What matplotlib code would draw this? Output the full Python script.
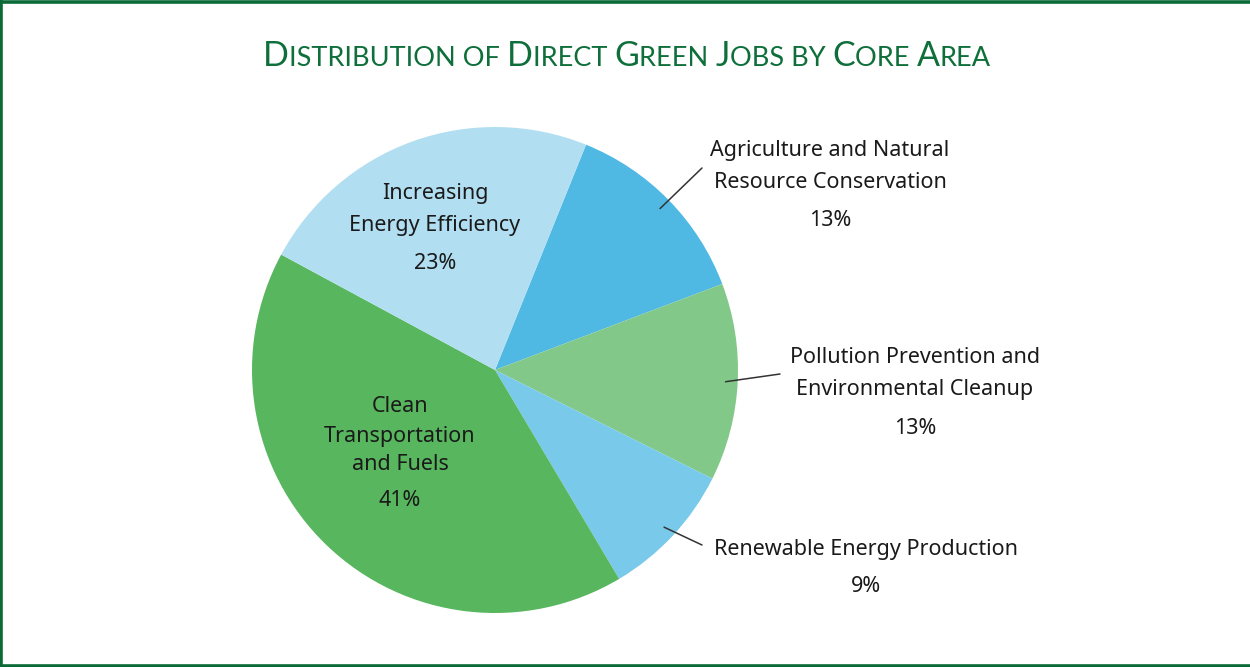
import numpy as np
import matplotlib
matplotlib.use("Agg")
import matplotlib.pyplot as plt
from matplotlib import font_manager
from matplotlib.lines import Line2D

# ---- data ----
categories = [
    "Agriculture and Natural\nResource Conservation",
    "Pollution Prevention and\nEnvironmental Cleanup",
    "Renewable Energy Production",
    "Clean\nTransportation\nand Fuels",
    "Increasing\nEnergy Efficiency",
]
shares = [13, 13, 9, 41, 23]
colors = ["#50b9e3", "#82c989", "#78c9ea", "#58b65e", "#b1dff1"]

title_green = "#0e6f3b"
text_color = "#1a1a1a"


def pick_font(names):
    for n in names:
        try:
            font_manager.findfont(font_manager.FontProperties(family=n),
                                  fallback_to_default=False)
            return n
        except Exception:
            continue
    return "DejaVu Sans"


body_font = pick_font(["Noto Sans", "Lato", "DejaVu Sans"])
title_font = pick_font(["Lato", "DejaVu Sans"])

W, H = 1250, 667
fig = plt.figure(figsize=(W / 100, H / 100), dpi=100)
fig.patch.set_facecolor("white")


def fpos(x, y):
    """pixel position (from top-left) -> figure fraction"""
    return x / W, 1 - y / H


# frame on top, left and bottom
for xs, ys in [((0, W), (1.5, 1.5)), ((1.5, 1.5), (0, H)), ((0, W), (H - 1.5, H - 1.5))]:
    fig.add_artist(Line2D([x / W for x in xs], [1 - y / H for y in ys],
                          transform=fig.transFigure, color="#0b6b38", lw=2.6))

# ---- pie ----
cx, cy, r = 495, 370, 243
ax = fig.add_axes([(cx - r) / W, (H - cy - r) / H, 2 * r / W, 2 * r / H])
wedges, _ = ax.pie(shares, colors=colors, startangle=68, counterclock=False,
                   radius=1, wedgeprops=dict(linewidth=0))
ax.set_xlim(-1, 1)
ax.set_ylim(-1, 1)
ax.set_aspect("equal")
ax.axis("off")

fs = 15.5


def draw_lines(lines, x, ys):
    for line, y in zip(lines, ys):
        fig.text(*fpos(x, y + 1.5), line, ha="center", va="center", fontsize=fs,
                 family=body_font, color=text_color)


# label layout: (x centre, y of each name line, y of percent line)
layout = [
    (830, [149, 181], 219),
    (915, [356, 388], 427),
    (866, [548], 585),
    (400, [405, 435, 463], 499),
    (435, [192, 224], 262),
]
leader_ends = {0: (702, 168), 1: (780, 374), 2: (702, 545)}

for i, (cat, val) in enumerate(zip(categories, shares)):
    x, ys, yp = layout[i]
    draw_lines(cat.split("\n"), x, ys)
    draw_lines([f"{val}%"], x, [yp])
    if i in leader_ends:
        w = wedges[i]
        mid = np.deg2rad((w.theta1 + w.theta2) / 2)
        ax.annotate("", xy=(0.95 * np.cos(mid), 0.95 * np.sin(mid)), xycoords="data",
                    xytext=fpos(*leader_ends[i]), textcoords="figure fraction",
                    arrowprops=dict(arrowstyle="-", lw=1.1, color="#333333",
                                    shrinkA=0, shrinkB=0))

# ---- small-caps title ----
segments = [("D", True), ("ISTRIBUTION OF ", False), ("D", True), ("IRECT ", False),
            ("G", True), ("REEN ", False), ("J", True), ("OBS BY ", False),
            ("C", True), ("ORE ", False), ("A", True), ("REA", False)]
big, small = 24.5, 19.5
renderer = fig.canvas.get_renderer()
texts = []
for s, is_big in segments:
    t = fig.text(0, 0, s, fontsize=big if is_big else small, family=title_font,
                 color=title_green, ha="left", va="baseline")
    texts.append(t)
widths = [t.get_window_extent(renderer).width for t in texts]
total = sum(widths)
x = 627 - total / 2
base_y = 66
for t, w in zip(texts, widths):
    t.set_position(fpos(x, base_y))
    x += w

fig.savefig("out.png", dpi=100)
